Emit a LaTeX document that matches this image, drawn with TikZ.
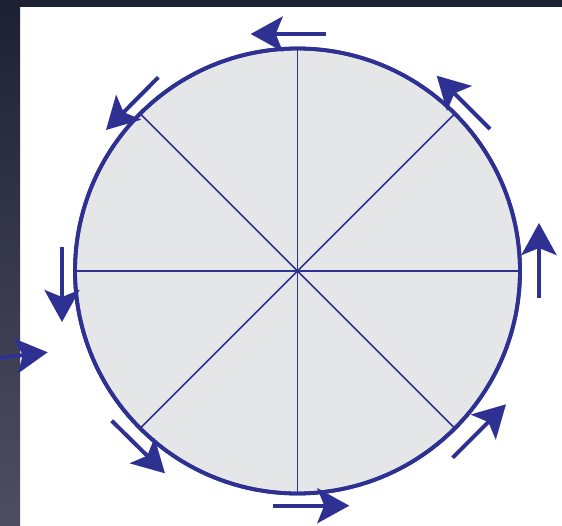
\documentclass[tikz,border=0pt]{standalone}
\usetikzlibrary{arrows.meta}
\begin{document}
\begin{tikzpicture}[x=1pt,y=-1pt,
rayon/.style={draw=bleu,line width=1.7pt},
fleche/.style={-{Stealth[length=32pt,width=35pt,inset=7pt]},line width=4pt,draw=bleu}]
\definecolor{bleu}{RGB}{46,49,146}
\definecolor{gris}{RGB}{229,230,232}
\definecolor{fondhaut}{RGB}{30,33,52}
\definecolor{fondbas}{RGB}{78,78,98}
\useasboundingbox (0,0) rectangle (562,525);
% fond
\fill[white] (0,0) rectangle (562,525);
\shade[top color=fondhaut,bottom color=fondbas] (0,0) rectangle (20,525);
\fill[fondhaut] (0,0) rectangle (562,7);
% disque et rayons
\node[circle,draw=bleu,fill=gris,line width=3.8pt,minimum size=445pt,inner sep=0pt,outer sep=0pt] (disque) at (297.5,271) {};
\draw[rayon] (disque.north) -- (disque.south);
\draw[rayon] (disque.west) -- (disque.east);
\draw[rayon] (disque.north west) -- (disque.south east);
\draw[rayon] (disque.north east) -- (disque.south west);
\draw[bleu,line width=3.8pt] (disque.center) circle (222.5);
% fleches tangentes
\coordinate (hautA) at (326,34);
\coordinate (hautB) at (250.7,34);
\coordinate (hgA) at (158.3,77.3);
\coordinate (hgB) at (106,130);
\coordinate (gaucheA) at (62,247);
\coordinate (gaucheB) at (62,322);
\coordinate (bgA) at (111.7,420.7);
\coordinate (bgB) at (165,473.3);
\coordinate (basA) at (273.3,505.7);
\coordinate (basB) at (349.3,505.7);
\coordinate (bdA) at (452.7,457.7);
\coordinate (bdB) at (506,404.3);
\coordinate (droiteA) at (539,298);
\coordinate (droiteB) at (539,223);
\coordinate (hdA) at (490,129);
\coordinate (hdB) at (436.7,75.7);
\draw[fleche] (hautA) -- (hautB);
\draw[fleche] (hgA) -- (hgB);
\draw[fleche] (gaucheA) -- (gaucheB);
\draw[fleche] (bgA) -- (bgB);
\draw[fleche] (basA) -- (basB);
\draw[fleche] (bdA) -- (bdB);
\draw[fleche] (droiteA) -- (droiteB);
\draw[fleche] (hdA) -- (hdB);
% fleche coupee a gauche
\coordinate (bordA) at (-2,358);
\coordinate (bordB) at (47.7,352.3);
\draw[fleche] (bordA) -- (bordB);
\end{tikzpicture}
\end{document}
